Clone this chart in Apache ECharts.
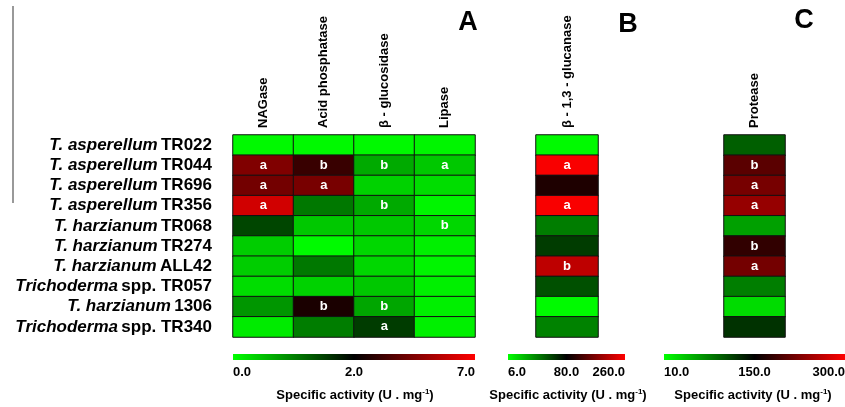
<!DOCTYPE html>
<html>
<head>
<meta charset="utf-8">
<script src="https://cdn.jsdelivr.net/npm/echarts@6/dist/echarts.min.js"></script>
<style>
  html, body { margin: 0; padding: 0; background: #fff; }
  #chart { width: 845px; height: 407px; }
</style>
</head>
<body>
<div id="chart"></div>
<script>
// strains (species in italics, strain code upright)
var species = ["T. asperellum", "T. asperellum", "T. asperellum", "T. asperellum", "T. harzianum",
  "T. harzianum", "T. harzianum", "Trichoderma", "T. harzianum", "Trichoderma"];
var strainCodes = ["TR022", "TR044", "TR696", "TR356", "TR068", "TR274", "ALL42", "spp. TR057", "1306", "spp. TR340"];

var enzymesA = ["NAGase", "Acid phosphatase", "β - glucosidase", "Lipase"];
var enzymesB = ["β - 1,3 - glucanase"];
var enzymesC = ["Protease"];

// specific activity (U . mg-1)
var nagase = [0.05, 4.5, 4.25, 6.1, 1.45, 0.39, 0.39, 0.27, 0.82, 0.16];
var acidPhosphatase = [0.05, 3.1, 4.35, 1.06, 0.43, 0.04, 1.06, 0.35, 2.5, 1.02];
var betaGlucosidase = [0.05, 0.67, 0.35, 0.67, 0.43, 0.31, 0.31, 0.43, 0.7, 1.53];
var lipase = [0.08, 0.43, 0.27, 0.08, 0.31, 0.12, 0.08, 0.12, 0.12, 0.12];
var glucanase = [7.5, 256, 101, 256, 43.7, 62.6, 214, 56.8, 7.5, 42.3];
var protease = [97.8, 203, 220, 238, 62, 179, 218, 81, 29, 122.6];

// statistical letters
var nagaseLetters = ["", "a", "a", "a", "", "", "", "", "", ""];
var acidLetters = ["", "b", "a", "", "", "", "", "", "b", ""];
var betaLetters = ["", "b", "", "b", "", "", "", "", "b", "a"];
var lipaseLetters = ["", "a", "", "", "b", "", "", "", "", ""];
var glucanaseLetters = ["", "a", "", "a", "", "", "b", "", "", ""];
var proteaseLetters = ["", "b", "a", "a", "", "b", "a", "", "", ""];

// colour scale ticks: green -> black -> red
var scaleA = [0.0, 2.0, 7.0];
var scaleB = [6.0, 80.0, 260.0];
var scaleC = [10.0, 150.0, 300.0];

var FONT = "'Liberation Sans', Arial, sans-serif";

function colorFor(v, s) {
  var t;
  if (v <= s[1]) {
    t = Math.max(0, Math.min(1, (v - s[0]) / (s[1] - s[0])));
    return "rgb(0," + Math.round(255 * (1 - t)) + ",0)";
  }
  t = Math.max(0, Math.min(1, (v - s[1]) / (s[2] - s[1])));
  return "rgb(" + Math.round(255 * t) + ",0,0)";
}

function cells(columns, letters, scale) {
  var out = [];
  columns.forEach(function (col, x) {
    col.forEach(function (v, y) {
      out.push({
        value: [x, y, v],
        note: letters[x][y],
        itemStyle: { color: colorFor(v, scale) }
      });
    });
  });
  return out;
}

var chart = echarts.init(document.getElementById("chart"));

var grids = [
  { left: 233, top: 135, width: 242, height: 202 },
  { left: 536, top: 135, width: 62, height: 202 },
  { left: 724, top: 135, width: 61, height: 202 }
];

function xAxisFor(i, names) {
  return {
    type: "category", gridIndex: i, position: "top", data: names,
    axisLine: { show: false }, axisTick: { show: false }, splitArea: { show: false },
    axisLabel: { rotate: -90, margin: 7, color: "#000", fontWeight: "bold", fontSize: 13, fontFamily: FONT }
  };
}

function yAxisFor(i, show) {
  return {
    type: "category", gridIndex: i, inverse: true, data: strainCodes,
    axisLine: { show: false }, axisTick: { show: false },
    axisLabel: {
      show: show, margin: 21,
      formatter: function (v, idx) { return "{i|" + species[idx] + "} {n|" + strainCodes[idx] + "}"; },
      rich: {
        i: { fontStyle: "italic", fontWeight: "bold", fontSize: 17, color: "#000", fontFamily: FONT },
        n: { fontWeight: "bold", fontSize: 17, color: "#000", fontFamily: FONT }
      }
    }
  };
}

function heat(i, data) {
  return {
    type: "heatmap", xAxisIndex: i, yAxisIndex: i, data: data,
    itemStyle: { borderColor: "#111", borderWidth: 1 },
    label: {
      show: true, color: "#fff", fontWeight: "bold", fontSize: 13, fontFamily: FONT,
      formatter: function (p) { return p.data.note; }
    },
    emphasis: { disabled: true }
  };
}

function legendBar(x, w, scale, titleX) {
  var txt = { font: "bold 13px " + FONT, fill: "#000" };
  var fmt = function (v) { return v.toFixed(1); };
  return [
    {
      type: "rect", shape: { x: x, y: 354, width: w, height: 6 },
      style: {
        fill: new echarts.graphic.LinearGradient(0, 0, 1, 0, [
          { offset: 0, color: "#00ff00" }, { offset: 0.5, color: "#000000" }, { offset: 1, color: "#ff0000" }
        ])
      }
    },
    { type: "text", style: Object.assign({ text: fmt(scale[0]), x: x, y: 372, align: "left", textAlign: "left", verticalAlign: "middle", textVerticalAlign: "middle" }, txt) },
    { type: "text", style: Object.assign({ text: fmt(scale[1]), x: x + w / 2, y: 372, align: "center", textAlign: "center", verticalAlign: "middle", textVerticalAlign: "middle" }, txt) },
    { type: "text", style: Object.assign({ text: fmt(scale[2]), x: x + w, y: 372, align: "right", textAlign: "right", verticalAlign: "middle", textVerticalAlign: "middle" }, txt) },
    {
      type: "text",
      style: {
        text: "{a|Specific activity (U . mg}{s|-1}{a|)}", x: titleX, y: 395,
        align: "center", textAlign: "center", verticalAlign: "middle", textVerticalAlign: "middle",
        rich: {
          a: { font: "bold 13px " + FONT, fill: "#000", lineHeight: 15 },
          s: { font: "bold 8px " + FONT, fill: "#000", verticalAlign: "top", lineHeight: 15 }
        }
      }
    }
  ];
}

var panelFont = "bold 27px " + FONT;

var option = {
  animation: false,
  grid: grids,
  xAxis: [xAxisFor(0, enzymesA), xAxisFor(1, enzymesB), xAxisFor(2, enzymesC)],
  yAxis: [yAxisFor(0, true), yAxisFor(1, false), yAxisFor(2, false)],
  series: [
    heat(0, cells([nagase, acidPhosphatase, betaGlucosidase, lipase],
      [nagaseLetters, acidLetters, betaLetters, lipaseLetters], scaleA)),
    heat(1, cells([glucanase], [glucanaseLetters], scaleB)),
    heat(2, cells([protease], [proteaseLetters], scaleC))
  ],
  graphic: [
    { type: "line", shape: { x1: 13, y1: 6, x2: 13, y2: 203 }, style: { stroke: "#777", lineWidth: 1.5 } },
    { type: "text", style: { text: "A", x: 468, y: 23, font: panelFont, fill: "#000", align: "center", textAlign: "center", verticalAlign: "middle", textVerticalAlign: "middle" } },
    { type: "text", style: { text: "B", x: 628, y: 25, font: panelFont, fill: "#000", align: "center", textAlign: "center", verticalAlign: "middle", textVerticalAlign: "middle" } },
    { type: "text", style: { text: "C", x: 804, y: 21, font: panelFont, fill: "#000", align: "center", textAlign: "center", verticalAlign: "middle", textVerticalAlign: "middle" } }
  ].concat(legendBar(233, 242, scaleA, 355), legendBar(508, 117, scaleB, 568), legendBar(664, 181, scaleC, 753))
};

chart.setOption(option);
window.addEventListener("resize", function () { chart.resize(); });
</script>
</body>
</html>
